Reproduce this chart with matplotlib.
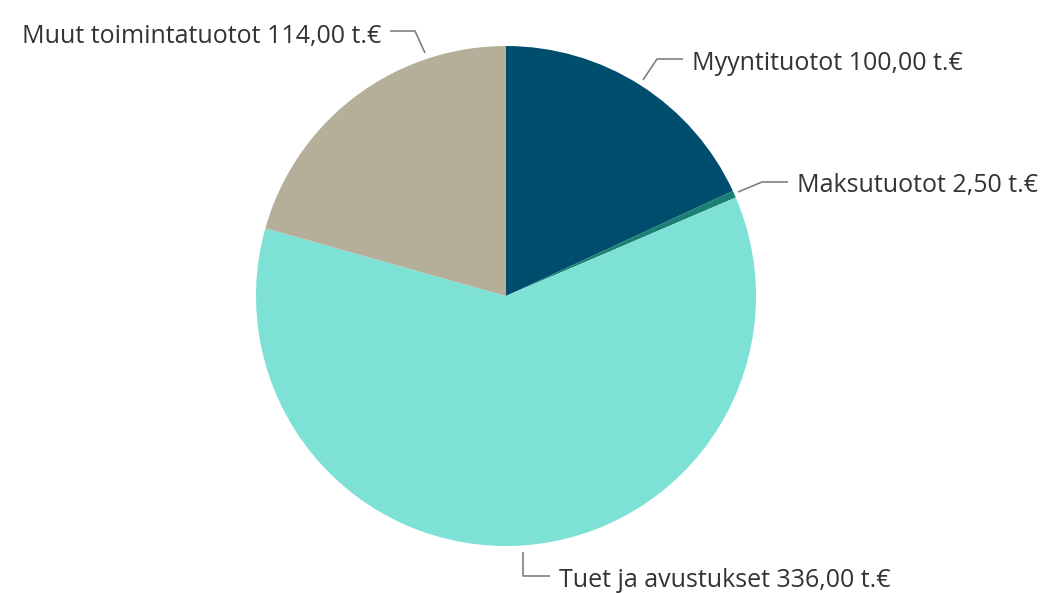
import numpy as np
import matplotlib.pyplot as plt

# ---------------------------- DATA -------------------------------------
labels = ["Myyntituotot", "Maksutuotot", "Tuet ja avustukset", "Muut toimintatuotot"]
values = [100.00, 2.50, 336.00, 114.00]
colors = ["#004E6E", "#1A8074", "#7EE1D5", "#B5AF9A"]

plt.rcParams["font.family"] = ["Open Sans", "DejaVu Sans"]

W, H = 1042, 593
fig = plt.figure(figsize=(W / 100, H / 100), dpi=100)
ax = fig.add_axes([0, 0, 1, 1])

cx, cy, R = 506, H - 296, 250
ax.pie(values, colors=colors, startangle=90, counterclock=False,
       center=(cx, cy), radius=R, wedgeprops=dict(linewidth=0), frame=True)
ax.set_xlim(0, W); ax.set_ylim(0, H); ax.axis("off")
ax.set_aspect("equal")

def fi(v):
    # Finnish number format: 114,00
    return f"{v:.2f}".replace(".", ",")

# leader layout (pixel coords from top-left): start, elbow, end, text baseline
layout = [
    dict(pts=[(643, 80), (657, 59), (683, 59)], txt=(692, 70), ha="left"),
    dict(pts=[(738, 192), (762, 182), (788, 182)], txt=(797, 192), ha="left"),
    dict(pts=[(523, 552), (523, 576), (550, 576)], txt=(559, 587), ha="left"),
    dict(pts=[(425, 53), (415, 31), (390, 31)], txt=(381, 43), ha="right"),
]
for lab, v, L in zip(labels, values, layout):
    xs = [p[0] for p in L["pts"]]; ys = [H - p[1] for p in L["pts"]]
    ax.plot(xs, ys, color="#808080", lw=1.2, solid_capstyle="butt")
    ax.text(L["txt"][0], H - L["txt"][1], f"{lab} {fi(v)} t.€", ha=L["ha"],
            va="baseline", fontsize=18, color="#333333")

fig.savefig("out.png", dpi=100, facecolor="white")
